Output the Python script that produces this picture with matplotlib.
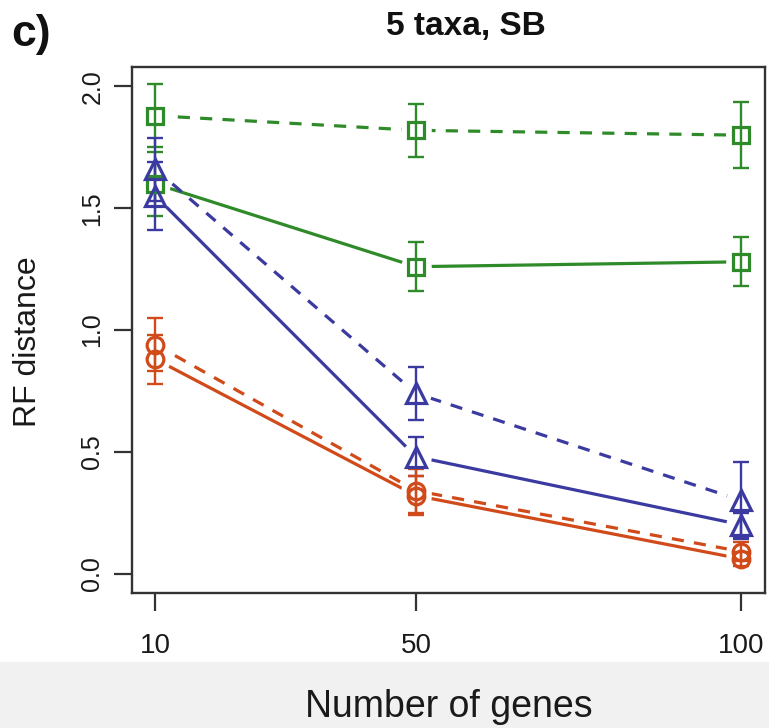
import matplotlib
matplotlib.use("Agg")
import matplotlib.pyplot as plt
from matplotlib.patches import Rectangle

plt.rcParams["font.family"] = ["Liberation Sans", "DejaVu Sans"]

genes = [10, 50, 100]

# RF distance means and error half-widths per method
green_dash = [1.88, 1.82, 1.80]
green_dash_err = [0.13, 0.11, 0.135]
green_solid = [1.60, 1.26, 1.28]
green_solid_err = [0.13, 0.10, 0.10]
blue_dash = [1.66, 0.74, 0.30]
blue_dash_err = [0.13, 0.11, 0.16]
blue_solid = [1.55, 0.48, 0.20]
blue_solid_err = [0.14, 0.08, 0.05]
red_dash = [0.94, 0.34, 0.09]
red_dash_err = [0.11, 0.09, 0.04]
red_solid = [0.88, 0.32, 0.06]
red_solid_err = [0.10, 0.08, 0.03]

GREEN = "#2f8a2a"
BLUE = "#3a3aa0"
RED = "#d04a1a"

series = [
    (green_dash, green_dash_err, GREEN, "s", True),
    (green_solid, green_solid_err, GREEN, "s", False),
    (blue_dash, blue_dash_err, BLUE, "^", True),
    (blue_solid, blue_solid_err, BLUE, "^", False),
    (red_dash, red_dash_err, RED, "o", True),
    (red_solid, red_solid_err, RED, "o", False),
]
marker_size = {"s": 11, "^": 14, "o": 12}

fig = plt.figure(figsize=(7.69, 7.28), dpi=100)
fig.patches.append(Rectangle((0, 0), 1, 66 / 728, transform=fig.transFigure,
                             color="#f1f1f1", zorder=0))
ax = fig.add_axes([0.1717, 0.1854, 0.823, 0.7226])

# lines first, then white gaps around points (R type="b"), then bars and markers
for y, err, col, mk, dashed in series:
    line, = ax.plot(genes, y, color=col, lw=2.3, zorder=2)
    if dashed:
        line.set_dashes((3.8, 3.2))
for y, err, col, mk, dashed in series:
    ax.plot(genes, y, ls="none", marker="o", ms=22, mfc="white", mec="none", zorder=3)
for y, err, col, mk, dashed in series:
    ax.errorbar(genes, y, yerr=err, fmt="none", ecolor=col, elinewidth=1.7,
                capsize=6, capthick=1.7, zorder=4)
    ax.plot(genes, y, ls="none", marker=mk, ms=marker_size[mk],
            mfc="none", mec=col, mew=2.3, zorder=5)

ax.set_xlim(6.4, 103.6)
ax.set_ylim(-0.08, 2.08)
ax.set_xticks(genes)
ax.set_xticklabels([str(g) for g in genes])
ax.set_yticks([0.0, 0.5, 1.0, 1.5, 2.0])
ax.set_yticklabels(["0.0", "0.5", "1.0", "1.5", "2.0"], rotation=90, va="center")
ax.tick_params(axis="both", length=13, width=1.6, color="#333333",
               labelcolor="#1a1a1a")
ax.tick_params(axis="x", pad=16, labelsize=20)
ax.tick_params(axis="y", pad=7, labelsize=18)
for sp in ax.spines.values():
    sp.set_linewidth(1.7)
    sp.set_color("#333333")

fig.text(0.036, 0.530, "RF distance", rotation=90, ha="center", va="center",
         fontsize=23, color="#1a1a1a")
fig.text(0.584, 0.029, "Number of genes", ha="center", va="center",
         fontsize=27, color="#1a1a1a")
fig.text(0.606, 0.963, "5 taxa, SB", ha="center", va="center",
         fontsize=24, fontweight="bold", color="#111111")
fig.text(0.015, 0.952, "c)", ha="left", va="center",
         fontsize=32, fontweight="bold", color="#111111")

fig.savefig("out.png", dpi=100)
